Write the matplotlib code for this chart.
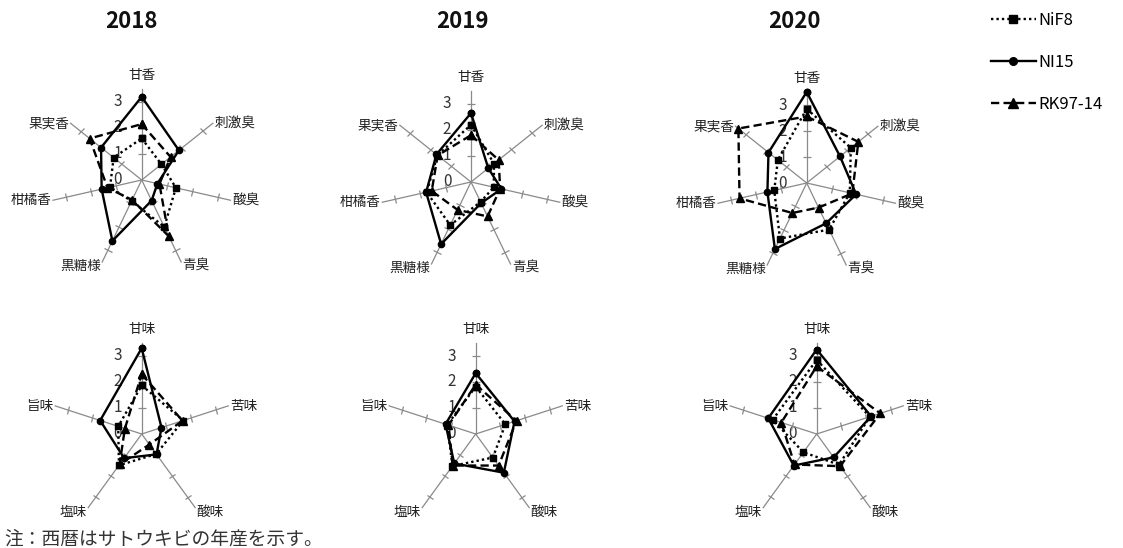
import numpy as np
import matplotlib
matplotlib.use("Agg")
import matplotlib.pyplot as plt
from matplotlib.markers import MarkerStyle
from matplotlib.transforms import Affine2D, offset_copy
from matplotlib.lines import Line2D

plt.rcParams['font.family'] = ['Noto Sans CJK JP', 'DejaVu Sans']

# ---------------- data ----------------
years = ['2018', '2019', '2020']
series_names = ['NiF8', 'NI15', 'RK97-14']

aroma_cats = ['甘香', '刺激臭', '酸臭', '青臭', '黒糖様', '柑橘香', '果実香']
taste_cats = ['甘味', '苦味', '酸味', '塩味', '旨味']

nif8_aroma_2018 = [1.6, 0.97, 1.35, 2.0, 0.9, 1.25, 1.38]
ni15_aroma_2018 = [3.2, 1.83, 0.62, 0.88, 2.6, 1.58, 2.0]
rk_aroma_2018 = [2.15, 1.42, 0.7, 2.4, 0.85, 1.35, 2.56]

nif8_aroma_2019 = [2.2, 1.13, 0.9, 0.85, 1.84, 1.75, 1.65]
ni15_aroma_2019 = [2.65, 0.85, 1.2, 0.9, 2.65, 1.77, 1.7]
rk_aroma_2019 = [1.8, 1.36, 1.15, 1.47, 1.19, 1.55, 1.64]

nif8_aroma_2020 = [2.85, 2.17, 1.7, 1.99, 2.37, 1.28, 1.42]
ni15_aroma_2020 = [3.5, 1.64, 1.95, 1.72, 2.82, 1.55, 1.88]
rk_aroma_2020 = [2.56, 2.54, 1.8, 1.05, 1.28, 2.65, 3.36]

nif8_taste_2018 = [1.87, 1.68, 0.95, 1.49, 0.95]
ni15_taste_2018 = [3.3, 0.8, 0.97, 1.15, 1.68]
rk_taste_2018 = [2.3, 1.65, 0.5, 1.45, 0.68]

nif8_taste_2019 = [1.82, 1.2, 1.12, 1.52, 1.15]
ni15_taste_2019 = [2.34, 1.57, 1.84, 1.4, 1.22]
rk_taste_2019 = [1.9, 1.65, 1.5, 1.5, 1.1]

nif8_taste_2020 = [2.85, 2.15, 1.46, 0.87, 1.78]
ni15_taste_2020 = [3.25, 2.2, 1.11, 1.5, 1.96]
rk_taste_2020 = [2.6, 2.57, 1.53, 1.45, 1.43]

radial_ticks = [0, 1, 2, 3]
r_max = 3.5

# ---------------- styles ----------------
styles = {
    'NiF8': dict(ls=(0, (1, 1.3)), marker='s', ms=4.5, lw=1.7),
    'NI15': dict(ls='-', marker='o', ms=4.5, lw=1.7),
    'RK97-14': dict(ls=(0, (3.5, 1.8)), marker='^', ms=5.8, lw=1.7),
}

W, H = 1123, 548
fig = plt.figure(figsize=(W / 100, H / 100), dpi=100)

R_PX = 91  # radius in pixels for r_max


def draw_radar(cx, cy, cats, data):
    size = 2 * R_PX
    ax = fig.add_axes([(cx - R_PX) / W, 1 - (cy + R_PX) / H, size / W, size / H],
                      projection='polar')
    ax.set_theta_offset(np.pi / 2)
    ax.set_theta_direction(-1)
    ax.set_ylim(0, r_max)
    ax.grid(False)
    ax.set_xticks([])
    ax.set_yticks([])
    ax.spines['polar'].set_visible(False)
    ax.patch.set_alpha(0)

    n = len(cats)
    thetas = np.arange(n) * 2 * np.pi / n
    for th, lab in zip(thetas, cats):
        phi = 90 - np.degrees(th)
        ax.plot([th, th], [0, r_max], color='#8a8a8a', lw=0.9, zorder=1, clip_on=False)
        mk = MarkerStyle('_', transform=Affine2D().rotate_deg(phi - 90))
        ax.plot([th] * 3, radial_ticks[1:], ls='none', marker=mk, ms=6,
                mew=0.9, color='#8a8a8a', zorder=1, clip_on=False)
        c, s = np.cos(np.radians(phi)), np.sin(np.radians(phi))
        if c > 0.3:
            ha = 'left'
        elif c < -0.3:
            ha = 'right'
        else:
            ha = 'center'
        dx, dy = 1.5 * np.sign(c) if abs(c) > 0.3 else 0, 0
        if s > 0.95:
            va = 'bottom'
            dy = 7
        elif s < -0.5:
            va = 'center'
            dy = -4
        else:
            va = 'center'
        tr = offset_copy(ax.transData, fig=fig, x=dx, y=dy, units='dots')
        ax.text(th, r_max, lab, transform=tr, ha=ha, va=va, fontsize=9.8,
                color='#222222', clip_on=False)

    tr_lab = offset_copy(ax.transData, fig=fig, x=-24, y=0, units='dots')
    for v in radial_ticks:
        ax.text(0, v, str(v), transform=tr_lab, ha='center', va='center',
                fontsize=11, color='#333333', zorder=0.5, clip_on=False)

    th_closed = np.append(thetas, thetas[0])
    for name, vals in zip(series_names, data):
        vals_closed = np.append(vals, vals[0])
        st = styles[name]
        ax.plot(th_closed, vals_closed, color='black', ls=st['ls'], lw=st['lw'],
                marker=st['marker'], ms=st['ms'], mfc='black', mec='black',
                zorder=3, clip_on=False, label=name)
    return ax


aroma_data = [
    [nif8_aroma_2018, ni15_aroma_2018, rk_aroma_2018],
    [nif8_aroma_2019, ni15_aroma_2019, rk_aroma_2019],
    [nif8_aroma_2020, ni15_aroma_2020, rk_aroma_2020],
]
taste_data = [
    [nif8_taste_2018, ni15_taste_2018, rk_taste_2018],
    [nif8_taste_2019, ni15_taste_2019, rk_taste_2019],
    [nif8_taste_2020, ni15_taste_2020, rk_taste_2020],
]

top_centers = [(141.7, 180), (471, 182), (806.7, 183)]
bottom_centers = [(141.7, 434), (475.7, 434), (816.7, 434)]
title_x = [131, 462, 794]

for i in range(3):
    draw_radar(*top_centers[i], aroma_cats, aroma_data[i])
    draw_radar(*bottom_centers[i], taste_cats, taste_data[i])
    fig.text(title_x[i] / W, 1 - 21 / H, years[i], ha='center', va='center',
             fontsize=16, fontweight='bold', color='#111111')

# legend
handles = []
for name in series_names:
    st = styles[name]
    handles.append(Line2D([], [], color='black', ls=st['ls'], lw=st['lw'],
                          marker=st['marker'], ms=st['ms'] + 1, mfc='black', mec='black'))
fig.legend(handles, series_names, loc='upper left',
           bbox_to_anchor=(979 / W, 1 - 0 / H), frameon=False, fontsize=12,
           handlelength=2.7, handletextpad=0.15, labelspacing=1.5,
           borderaxespad=0.3)

fig.text(4 / W, 1 - 539 / H, '注：西暦はサトウキビの年産を示す。', ha='left', va='center',
         fontsize=13.5, color='#333333')

fig.savefig('out.png', dpi=100)
